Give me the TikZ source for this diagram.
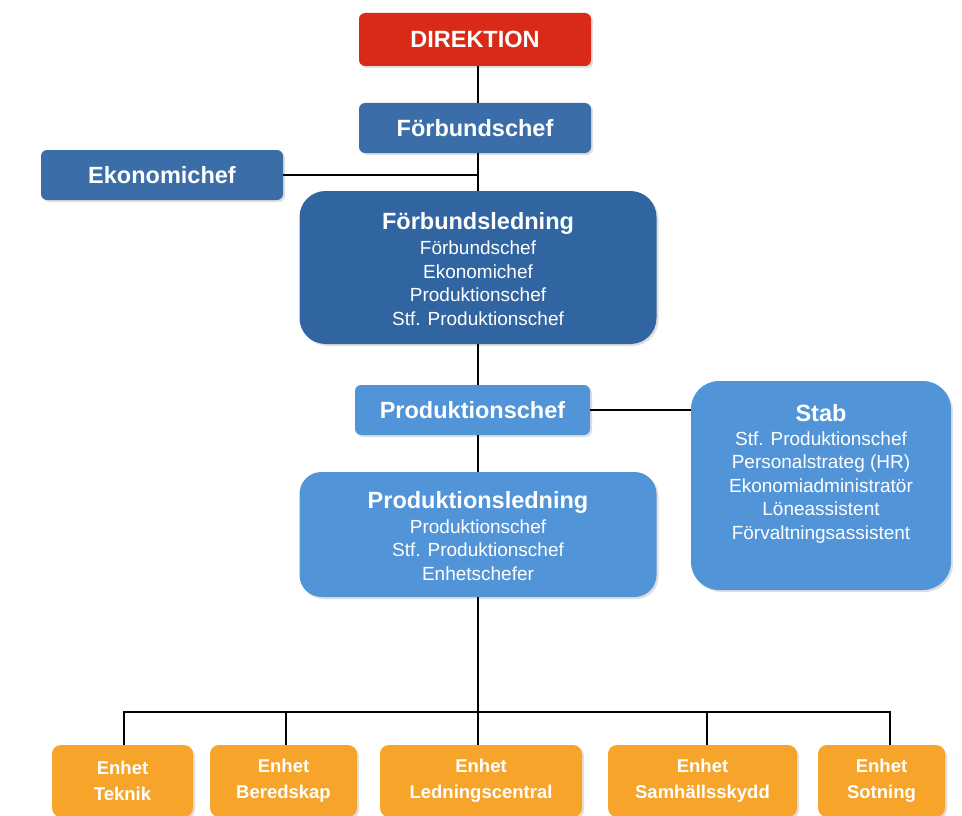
\documentclass[tikz,border=0pt]{standalone}
\usepackage{fontspec}
\setmainfont{Liberation Sans}
\usetikzlibrary{shadows,calc}
\definecolor{cred}{HTML}{D82A16}
\definecolor{cblue}{HTML}{3B6EA9}
\definecolor{cdblue}{HTML}{3165A2}
\definecolor{clblue}{HTML}{5294D8}
\definecolor{corange}{HTML}{F7A52A}
\begin{document}
\begin{tikzpicture}[x=1pt,y=-1pt,
  box/.style={draw=none,text=white,align=center,inner sep=0pt,
    font=\fontsize{23.5}{27}\selectfont\bfseries,
    drop shadow={opacity=0.25,shadow xshift=2pt,shadow yshift=-2pt}},
  unit/.style={box,fill=corange,rounded corners=9pt,minimum height=72pt,
    font=\fontsize{18.5}{26}\selectfont\bfseries},
  sub/.style={font=\fontsize{19}{23.5}\selectfont},
  conn/.style={draw=black,line width=1.4pt}]
\useasboundingbox (0,0) rectangle (962,816);
% top
\node[box,fill=cred,rounded corners=6pt,minimum width=232pt,minimum height=53pt] (dir) at (475,39.5) {DIREKTION};
\node[box,fill=cblue,rounded corners=6pt,minimum width=232pt,minimum height=50pt] (fc) at (475,128) {Förbundschef};
\node[box,fill=cblue,rounded corners=6pt,minimum width=242pt,minimum height=50pt] (eko) at (162,175) {Ekonomichef};
\node[box,fill=cdblue,rounded corners=26pt,minimum width=357pt,minimum height=153pt] (fl) at (478,267.5) {};
\node[text=white,align=center,inner sep=0pt,sub] (fltxt) at (478,269) {{\fontsize{23.5}{27}\selectfont\bfseries Förbundsledning}\\[2pt]Förbundschef\\Ekonomichef\\Produktionschef\\Stf. Produktionschef};
% middle
\node[box,fill=clblue,rounded corners=6pt,minimum width=235pt,minimum height=50pt] (pc) at (472.5,410) {Produktionschef};
\node[box,fill=clblue,rounded corners=22pt,minimum width=357pt,minimum height=125pt] (pl) at (478,534.5) {};
\node[text=white,align=center,inner sep=0pt,sub] (pltxt) at (478,536) {{\fontsize{23.5}{27}\selectfont\bfseries Produktionsledning}\\[1pt]Produktionschef\\Stf. Produktionschef\\Enhetschefer};
\node[box,fill=clblue,rounded corners=28pt,minimum width=260pt,minimum height=209pt] (stab) at (821,485.5) {};
\node[text=white,align=center,inner sep=0pt,sub] (stabtxt) at (821,474) {{\fontsize{23.5}{27}\selectfont\bfseries Stab}\\Stf. Produktionschef\\Personalstrateg (HR)\\Ekonomiadministratör\\Löneassistent\\Förvaltningsassistent};
% units
\node[unit,minimum width=141pt] (u1) at (122.5,781) {Enhet\\Teknik};
\node[unit,minimum width=147pt] (u2) at (283.5,781) {Enhet\\Beredskap};
\node[unit,minimum width=202pt] (u3) at (481,781) {Enhet\\Ledningscentral};
\node[unit,minimum width=189pt] (u4) at (702.5,781) {Enhet\\Samhällsskydd};
\node[unit,minimum width=127pt] (u5) at (881.5,781) {Enhet\\Sotning};
% connectors
\coordinate (bus) at (478,712);
\draw[conn] ([xshift=3pt]dir.south) -- ([xshift=3pt]fc.north);
\draw[conn] ([xshift=3pt]fc.south) -- (fl.north);
\draw[conn] (eko.east) -- (eko.east -| fl.north);
\draw[conn] (fl.south) -- ([xshift=5.5pt]pc.north);
\draw[conn] ([xshift=5.5pt]pc.south) -- (pl.north);
\draw[conn] (pc.east) -- (pc.east -| stab.west);
\draw[conn] (pl.south) -- (bus);
\draw[conn] ([xshift=1.5pt]u1.north) |- (bus) -| ([xshift=8.5pt]u5.north);
\draw[conn] ([xshift=2.5pt]u2.north) -- ([xshift=2.5pt]u2.north |- bus);
\draw[conn] (bus) -- (bus |- u3.north);
\draw[conn] ([xshift=4.5pt]u4.north) -- ([xshift=4.5pt]u4.north |- bus);
\end{tikzpicture}
\end{document}
